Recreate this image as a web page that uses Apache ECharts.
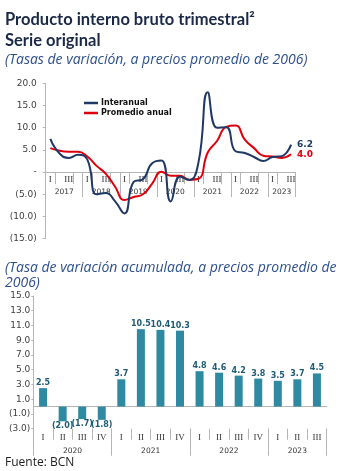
<!DOCTYPE html>
<html><head><meta charset="utf-8">
<script src="https://cdn.jsdelivr.net/npm/echarts@6/dist/echarts.min.js"></script>
<style>html,body{margin:0;padding:0;background:#fff}#c{width:357px;height:471px}</style>
</head><body><div id="c"></div>
<script>
// ---- Data: top chart (quarterly growth, 2017 I - 2023 III)
const topQuarters = ['I','II','III','IV','I','II','III','IV','I','II','III','IV','I','II','III','IV','I','II','III','IV','I','II','III','IV','I','II','III'];
const topYears = ['2017','2018','2019','2020','2021','2022','2023'];
const interanual = [7.5,4.2,3.2,3.9,2.8,-5.0,-4.7,-6.6,-9.3,-2.2,-1.6,2.0,2.6,-6.6,-1.0,-1.8,2.2,18.0,10.0,10.1,4.7,4.3,3.4,2.5,3.4,3.6,6.2];
const promedioAnual = [5.4,4.8,4.6,4.6,3.5,1.4,-0.4,-3.3,-6.3,-5.6,-5.0,-2.6,0.1,-0.8,-0.8,-1.7,-1.5,4.4,7.0,10.2,10.5,7.3,5.4,3.7,3.5,3.2,4.0];
const topYMin = -15, topYMax = 20, topYStep = 5;

// ---- Data: bottom chart (accumulated growth, 2020 I - 2023 III)
const barQuarters = ['I','II','III','IV','I','II','III','IV','I','II','III','IV','I','II','III'];
const barYears = ['2020','2021','2022','2023'];
const barValues = [2.5,-2.0,-1.7,-1.8,3.7,10.5,10.4,10.3,4.8,4.6,4.2,3.8,3.5,3.7,4.5];
const barYTicks = [-3,-1,1,3,5,7,9,11,13,15];

function yearBounds(q){const b=[];q.forEach((v,i)=>{if(v==='I')b.push(i);});b.push(q.length);return b;}
function yearMids(b){const m=[];for(let i=0;i<b.length-1;i++)m.push((b[i]+b[i+1])/2);return m;}
const tb=yearBounds(topQuarters), tm=yearMids(tb);
const bb=yearBounds(barQuarters), bm=yearMids(bb);
function yearOf(bounds,years,v){for(let i=0;i<bounds.length-1;i++){if(v>=bounds[i]&&v<bounds[i+1])return years[i];}return '';}
const fmtNum = v => v===0 ? '-' : (v<0 ? '('+Math.abs(v).toFixed(1)+')' : v.toFixed(1));

// layout
const W=357,H=471;
const topGrid={left:45.7,right:61.3,top:83.3,bottom:232.3};
const topGridH=H-topGrid.top-topGrid.bottom;
// move the top x axes up to the zero line of the y scale
const topZeroOffset = -(0-topYMin)/(topYMax-topYMin)*topGridH;

const NAVY='#1f3864', RED='#e0000b', BAR='#2e8aa0', BARLBL='#1f5b75', AX='#b5b5b5', TXT='#333';
const chart = echarts.init(document.getElementById('c'));
chart.setOption({
  animation:false,
  backgroundColor:'#fff',
  graphic:[
    {type:'text',x:5,y:20,style:{text:'Producto interno bruto trimestral²',font:'bold 16.5px Lato',fill:'#1b2947',textVerticalAlign:'middle'}},
    {type:'text',x:5,y:41,style:{text:'Serie original',font:'bold 16.5px Lato',fill:'#1b2947',textVerticalAlign:'middle'}},
    {type:'text',x:5,y:60,style:{text:'(Tasas de variación, a precios promedio de 2006)',font:'italic 14px "Open Sans"',fill:'#2d4f8e',textVerticalAlign:'middle'}},
    {type:'text',x:5,y:268,style:{text:'(Tasa de variación acumulada, a precios promedio de',font:'italic 14px "Open Sans"',fill:'#2d4f8e',textVerticalAlign:'middle'}},
    {type:'text',x:5,y:283,style:{text:'2006)',font:'italic 14px "Open Sans"',fill:'#2d4f8e',textVerticalAlign:'middle'}},
    {type:'text',x:5,y:463,style:{text:'Fuente: BCN',font:'12px "Open Sans"',fill:'#222',textVerticalAlign:'middle'}}
  ],
  legend:{
    data:['Interanual','Promedio anual'],orient:'vertical',left:79,top:94,
    icon:'rect',itemWidth:14,itemHeight:2.5,itemGap:2,
    textStyle:{fontFamily:'DejaVu Sans',fontWeight:'bold',fontSize:8,color:'#111',padding:[0,0,0,-2]}
  },
  grid:[
    topGrid,
    {left:33.3,right:30.3,top:296,bottom:42.3}
  ],
  xAxis:[
    {gridIndex:0,type:'category',data:topQuarters,boundaryGap:true,position:'bottom',offset:topZeroOffset,
     axisLine:{onZero:false,lineStyle:{color:AX,width:1}},
     axisTick:{show:true,length:12,interval:(i)=>i%2===1,lineStyle:{color:AX}},
     axisLabel:{interval:(i,v)=>v==='I'||v==='III',margin:3,fontFamily:'Liberation Serif',fontSize:9,color:TXT},
     splitLine:{show:false}},
    {gridIndex:0,type:'value',min:0,max:topQuarters.length,position:'bottom',offset:topZeroOffset,
     axisLine:{show:false,onZero:false},
     axisTick:{show:true,length:25,customValues:tb,lineStyle:{color:AX}},
     axisLabel:{customValues:tm,margin:16,formatter:v=>yearOf(tb,topYears,v),fontFamily:'DejaVu Sans',fontSize:7.5,color:TXT},
     splitLine:{show:false}},
    {gridIndex:1,type:'category',data:barQuarters,boundaryGap:true,position:'bottom',
     axisLine:{onZero:true,lineStyle:{color:AX}},axisTick:{show:false},axisLabel:{show:false},splitLine:{show:false}},
    {gridIndex:1,type:'category',data:barQuarters,boundaryGap:true,position:'bottom',
     axisLine:{show:false,onZero:false},
     axisTick:{show:true,length:11,interval:0,lineStyle:{color:AX}},
     axisLabel:{interval:0,margin:4,fontFamily:'Liberation Serif',fontSize:9,color:TXT},splitLine:{show:false}},
    {gridIndex:1,type:'value',min:0,max:barQuarters.length,position:'bottom',
     axisLine:{show:false,onZero:false},
     axisTick:{show:true,length:27,customValues:bb,lineStyle:{color:AX}},
     axisLabel:{customValues:bm,margin:18,formatter:v=>yearOf(bb,barYears,v),fontFamily:'DejaVu Sans',fontSize:7.5,color:TXT},
     splitLine:{show:false}}
  ],
  yAxis:[
    {gridIndex:0,type:'value',min:topYMin,max:topYMax,interval:topYStep,
     axisLine:{show:true,onZero:false,lineStyle:{color:AX}},
     axisTick:{show:true,length:3,lineStyle:{color:AX}},
     axisLabel:{formatter:fmtNum,margin:9,fontFamily:'DejaVu Sans',fontSize:9,color:'#404040'},
     splitLine:{show:false}},
    {gridIndex:1,type:'value',min:-3,max:15,interval:1,
     axisLine:{show:true,onZero:false,lineStyle:{color:AX}},
     axisTick:{show:true,length:2,customValues:barYTicks,lineStyle:{color:AX}},
     axisLabel:{customValues:barYTicks,formatter:v=>(Math.abs(v)%2===1?fmtNum(v):''),margin:3,fontFamily:'DejaVu Sans',fontSize:9,color:'#404040'},
     splitLine:{show:false}}
  ],
  series:[
    {name:'Interanual',type:'line',xAxisIndex:0,yAxisIndex:0,data:interanual,smooth:true,symbol:'none',
     lineStyle:{color:NAVY,width:2},itemStyle:{color:NAVY},z:3,
     endLabel:{show:true,formatter:p=>p.value.toFixed(1),color:NAVY,fontFamily:'DejaVu Sans',fontWeight:'bold',fontSize:9,distance:6}},
    {name:'Promedio anual',type:'line',xAxisIndex:0,yAxisIndex:0,data:promedioAnual,smooth:true,symbol:'none',
     lineStyle:{color:RED,width:2},itemStyle:{color:RED},z:2,
     endLabel:{show:true,formatter:p=>p.value.toFixed(1),color:RED,fontFamily:'DejaVu Sans',fontWeight:'bold',fontSize:9,distance:6}},
    {name:'Acumulada',type:'bar',xAxisIndex:2,yAxisIndex:1,barWidth:8,
     data:barValues.map(v=>({value:v,label:{position:v<0?'bottom':'top'}})),
     itemStyle:{color:BAR},
     label:{show:true,distance:1,formatter:p=>fmtNum(p.value),fontFamily:'DejaVu Sans',fontWeight:'bold',fontSize:8,color:BARLBL}}
  ]
});
</script></body></html>
